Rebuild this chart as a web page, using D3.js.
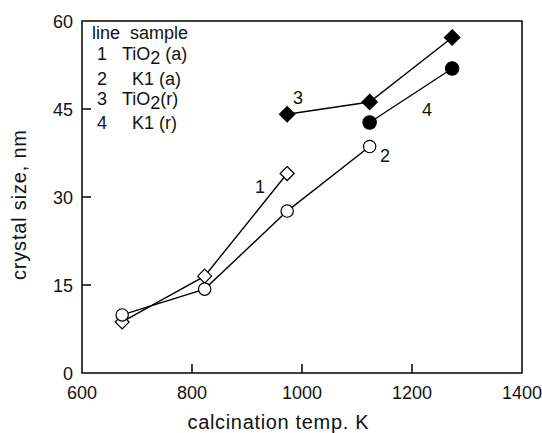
<!DOCTYPE html>
<html>
<head>
<meta charset="utf-8">
<script src="https://d3js.org/d3.v7.min.js"></script>
<style>
  body { margin: 0; background: #fff; }
  text { font-family: "Liberation Sans", Arial, sans-serif; fill: #111; white-space: pre; }
</style>
</head>
<body>
<svg width="542" height="433"></svg>
<script>
// data
var temps1 = [673, 823, 973];
var size1 = [8.7, 16.5, 34.0];          // line 1, TiO2 (a), open diamond
var temps2 = [673, 823, 973, 1123];
var size2 = [9.9, 14.3, 27.6, 38.6];    // line 2, K1 (a), open circle
var temps3 = [973, 1123, 1273];
var size3 = [44.1, 46.2, 57.2];         // line 3, TiO2 (r), filled diamond
var temps4 = [1123, 1273];
var size4 = [42.7, 51.9];               // line 4, K1 (r), filled circle
var xTicks = [600, 800, 1000, 1200, 1400];
var yTicks = [0, 15, 30, 45, 60];

var svg = d3.select("svg");
var pLeft = 82, pRight = 522, pTop = 21, pBottom = 373;

var x = d3.scaleLinear().domain([600, 1400]).range([pLeft, pRight]);
var y = d3.scaleLinear().domain([0, 60]).range([pBottom, pTop]);

// frame
svg.append("rect")
    .attr("x", pLeft).attr("y", pTop)
    .attr("width", pRight - pLeft).attr("height", pBottom - pTop)
    .attr("fill", "none").attr("stroke", "#111").attr("stroke-width", 1.6);

// inward ticks
svg.selectAll(".xt").data(xTicks.slice(1, -1)).enter().append("line")
    .attr("x1", d => x(d)).attr("x2", d => x(d))
    .attr("y1", pBottom).attr("y2", pBottom - 9)
    .attr("stroke", "#111").attr("stroke-width", 1.6);
svg.selectAll(".yt").data(yTicks.slice(1, -1)).enter().append("line")
    .attr("x1", pLeft).attr("x2", pLeft + 9)
    .attr("y1", d => y(d)).attr("y2", d => y(d))
    .attr("stroke", "#111").attr("stroke-width", 1.6);

svg.selectAll(".xl").data(xTicks).enter().append("text")
    .attr("x", d => x(d)).attr("y", 399)
    .attr("text-anchor", "middle").style("font-size", "18px")
    .text(d => d);
svg.selectAll(".yl").data(yTicks).enter().append("text")
    .attr("x", 73).attr("y", d => y(d) + 7)
    .attr("text-anchor", "end").style("font-size", "18px")
    .text(d => d);

svg.append("text").attr("x", 278).attr("y", 429)
    .attr("text-anchor", "middle").style("font-size", "20px")
    .attr("textLength", 181)
    .text("calcination temp. K");
svg.append("text")
    .attr("transform", "translate(26,205) rotate(-90)")
    .attr("text-anchor", "middle").style("font-size", "20px")
    .attr("textLength", 150)
    .text("crystal size, nm");

var line = d3.line().x(d => x(d[0])).y(d => y(d[1]));
var series = [
    {t: temps1, v: size1, shape: d3.symbolDiamond2, size: 125, fill: "#fff"},
    {t: temps2, v: size2, shape: d3.symbolCircle, size: 120, fill: "#fff"},
    {t: temps3, v: size3, shape: d3.symbolDiamond2, size: 150, fill: "#000"},
    {t: temps4, v: size4, shape: d3.symbolCircle, size: 140, fill: "#000"}
];

series.forEach(function (s) {
    var pts = s.t.map((t, i) => [t, s.v[i]]);
    svg.append("path").attr("d", line(pts))
        .attr("fill", "none").attr("stroke", "#000").attr("stroke-width", 1.4);
});
series.forEach(function (s) {
    var pts = s.t.map((t, i) => [t, s.v[i]]);
    svg.selectAll(null).data(pts).enter().append("path")
        .attr("d", d3.symbol().type(s.shape).size(s.size))
        .attr("transform", d => "translate(" + x(d[0]) + "," + y(d[1]) + ")")
        .attr("fill", s.fill).attr("stroke", "#000").attr("stroke-width", 1.2);
});

// line numbers next to the curves
var tags = [["1", 255, 193], ["2", 380, 162], ["3", 293, 104], ["4", 422, 116]];
svg.selectAll(".tag").data(tags).enter().append("text")
    .attr("x", d => d[1]).attr("y", d => d[2])
    .style("font-size", "18px").text(d => d[0]);

// legend
var lg = svg.append("g").style("font-size", "18px");
lg.append("text").attr("x", 92).attr("y", 39).text("line  sample");
var rows = [
    ["1", 60, "TiO", "2", " (a)", 122],
    ["2", 85, "K1 (a)", "", "", 132],
    ["3", 105, "TiO", "2", "(r)", 122],
    ["4", 129, "K1 (r)", "", "", 132]
];
rows.forEach(function (r) {
    lg.append("text").attr("x", 97).attr("y", r[1]).text(r[0]);
    var t = lg.append("text").attr("x", r[5]).attr("y", r[1]);
    t.append("tspan").text(r[2]);
    if (r[3]) {
        t.append("tspan").attr("dy", 4).text(r[3]);
        t.append("tspan").attr("dy", -4).text(r[4]);
    }
});
</script>
</body>
</html>
